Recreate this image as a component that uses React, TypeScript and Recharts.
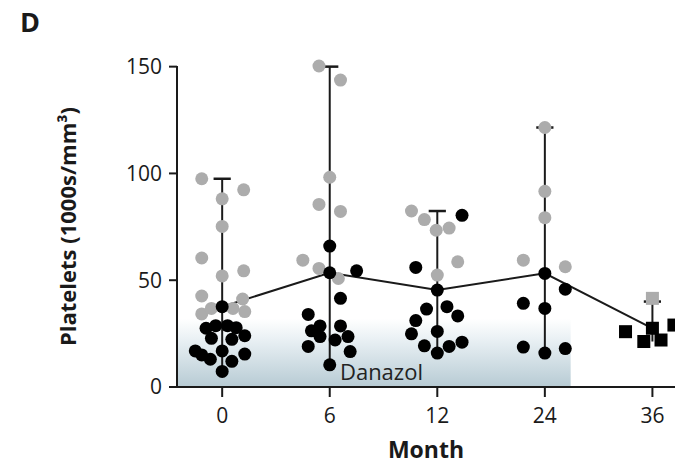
import React from 'react';
import { ComposedChart, Line, Scatter, XAxis, YAxis, ReferenceArea, ReferenceDot, Label } from 'recharts';

const months = ['0', '6', '12', '24', '36'];
const yTicks = [0, 50, 100, 150];
const medians = [37.6, 53.5, 45.4, 53.2, 27.5];
const rangeLow = [7.3, 10.4, 15.9, 15.9, 21.3];
const rangeHigh = [97.5, 150, 82.4, 121.5, 40];

// [month index, jitter, platelets]
const grayDots = [
  [0, -0.19, 97.5], [0, 0.2, 92.3], [0, 0, 88.1], [0, 0, 75.2], [0, -0.19, 60.4], [0, 0, 52],
  [0, 0.2, 54.4], [0, -0.19, 42.6], [0, 0.19, 41.2], [0, -0.19, 34.2], [0, -0.1, 36.8],
  [0, 0.1, 36.8], [0, 0.21, 35.3],
  [1, -0.1, 150.3], [1, 0.1, 143.7], [1, 0, 98.2], [1, -0.1, 85.5], [1, 0.1, 82.2],
  [1, -0.25, 59.4], [1, -0.1, 55.5], [1, 0.08, 50.8],
  [2, -0.24, 82.4], [2, -0.12, 78.4], [2, -0.01, 73.4], [2, 0.11, 74.4], [2, 0.19, 58.6], [2, 0, 52.4],
  [3, 0, 121.5], [3, 0, 91.6], [3, 0, 79.3], [3, -0.2, 59.4], [3, 0.19, 56.3],
];

const blackDots = [
  [0, 0, 37.6], [0, -0.15, 27.5], [0, -0.06, 28.7], [0, 0.05, 28.7], [0, 0.13, 27.8],
  [0, -0.1, 22.8], [0, 0.09, 22.3], [0, 0.21, 24], [0, -0.25, 16.9], [0, -0.19, 15],
  [0, 0, 16.9], [0, -0.11, 13], [0, 0.09, 12], [0, 0.21, 15.4], [0, 0, 7.3],
  [1, 0, 66], [1, 0.25, 54.4], [1, 0, 53.5], [1, 0.1, 41.5], [1, -0.2, 34], [1, -0.09, 28.6],
  [1, -0.17, 26.3], [1, 0.1, 28.6], [1, -0.09, 23.6], [1, 0.05, 22], [1, 0.17, 23.6],
  [1, -0.2, 19], [1, 0.19, 16.6], [1, 0, 10.4],
  [2, 0.23, 80.4], [2, -0.2, 56], [2, 0, 45.4], [2, -0.1, 36.5], [2, 0.09, 37.6], [2, 0.19, 33.3],
  [2, -0.2, 31.1], [2, 0, 26], [2, -0.24, 24.9], [2, -0.12, 19.3], [2, 0.11, 19], [2, 0.23, 21],
  [2, 0, 15.9],
  [3, 0, 53.2], [3, 0.19, 45.8], [3, -0.2, 39.2], [3, 0, 36.8], [3, -0.2, 18.7], [3, 0, 15.9],
  [3, 0.19, 18],
];

const graySquares = [[4, 0, 41.5]];
const blackSquares = [[4, -0.25, 25.9], [4, 0, 27.5], [4, -0.08, 21.3], [4, 0.08, 22], [4, 0.2, 29]];

const toPts = (rows: number[][]) => rows.map(([g, j, v]) => ({ x: g + j, y: v }));
const medianPts = medians.map((m, i) => ({ x: i, y: m }));

const FONT = '"Open Sans", sans-serif';
const INK = '#1a1a1a';

const circle = (fill: string) => (p: any) => <circle cx={p.cx} cy={p.cy} r={6.5} fill={fill} />;
const square = (fill: string) => (p: any) => (
  <rect x={p.cx - 6.5} y={p.cy - 6.5} width={13} height={13} fill={fill} />
);

const YLabel = (props: any) => {
  const { viewBox } = props;
  const cx = viewBox.x + 67;
  const cy = viewBox.y + viewBox.height / 2;
  return (
    <text
      x={cx}
      y={cy}
      transform={`rotate(-90, ${cx}, ${cy})`}
      textAnchor="middle"
      dominantBaseline="central"
      fontFamily={FONT}
      fontWeight={700}
      fontSize={22}
      fill={INK}
    >
      Platelets (1000s/mm³)
    </text>
  );
};

const XLabel = (props: any) => {
  const { viewBox } = props;
  return (
    <text
      x={viewBox.x + viewBox.width / 2}
      y={viewBox.y + 71}
      textAnchor="middle"
      fontFamily={FONT}
      fontWeight={700}
      fontSize={23}
      fill={INK}
    >
      Month
    </text>
  );
};

export default function App() {
  return (
    <div style={{ position: 'absolute', left: 0, top: 0, width: 675, height: 464, background: '#fff' }}>
      <div
        style={{
          position: 'absolute',
          left: 20,
          top: 8,
          fontFamily: FONT,
          fontWeight: 700,
          fontSize: 27,
          lineHeight: 1,
          color: INK,
        }}
      >
        D
      </div>
      <ComposedChart width={675} height={464} margin={{ top: 66, right: 0, bottom: 0, left: 0 }}>
        <defs>
          <linearGradient id="danazolShade" x1="0" y1="0" x2="0" y2="1">
            <stop offset="0%" stopColor="#ffffff" />
            <stop offset="35%" stopColor="#e6eef2" />
            <stop offset="100%" stopColor="#b7cbd4" />
          </linearGradient>
        </defs>
        <XAxis
          type="number"
          dataKey="x"
          domain={[-0.42, 4.21]}
          allowDataOverflow
          ticks={[0, 1, 2, 3, 4]}
          tickFormatter={(v: number) => months[v]}
          height={77}
          tickSize={10}
          tickMargin={11}
          axisLine={{ stroke: INK, strokeWidth: 2 }}
          tickLine={{ stroke: INK, strokeWidth: 2 }}
          tick={{ fill: INK, fontSize: 21, fontFamily: FONT }}
        >
          <Label content={XLabel} />
        </XAxis>
        <YAxis
          type="number"
          dataKey="y"
          domain={[0, 150]}
          ticks={yTicks}
          width={177}
          tickSize={8}
          tickMargin={7}
          axisLine={{ stroke: INK, strokeWidth: 2 }}
          tickLine={{ stroke: INK, strokeWidth: 2 }}
          tick={{ fill: INK, fontSize: 21, fontFamily: FONT }}
        >
          <Label content={YLabel} />
        </YAxis>
        <ReferenceArea x1={-0.42} x2={3.24} y1={0} y2={32} fill="url(#danazolShade)" fillOpacity={1} stroke="none" />
        <ReferenceDot
          x={1.095}
          y={3.4}
          r={0}
          shape={(p: any) => (
            <text x={p.cx} y={p.cy} fontFamily={FONT} fontSize={22} fill="#222">
              Danazol
            </text>
          )}
        />
        {months.map((_, i) => (
          <Line
            key={`w${i}`}
            data={[{ x: i, y: rangeLow[i] }, { x: i, y: rangeHigh[i] }]}
            dataKey="y"
            stroke={INK}
            strokeWidth={2}
            dot={false}
            isAnimationActive={false}
          />
        ))}
        {months.map((_, i) => (
          <Line
            key={`c${i}`}
            data={[{ x: i - 0.08, y: rangeHigh[i] }, { x: i + 0.08, y: rangeHigh[i] }]}
            dataKey="y"
            stroke={INK}
            strokeWidth={2.5}
            dot={false}
            isAnimationActive={false}
          />
        ))}
        <Scatter data={toPts(grayDots)} shape={circle('#acacac')} isAnimationActive={false} />
        <Scatter data={toPts(graySquares)} shape={square('#acacac')} isAnimationActive={false} />
        <Line
          data={medianPts}
          dataKey="y"
          stroke={INK}
          strokeWidth={2}
          dot={false}
          isAnimationActive={false}
        />
        <Scatter data={toPts(blackDots)} shape={circle('#000')} isAnimationActive={false} />
        <Scatter data={toPts(blackSquares)} shape={square('#000')} isAnimationActive={false} />
      </ComposedChart>
    </div>
  );
}
